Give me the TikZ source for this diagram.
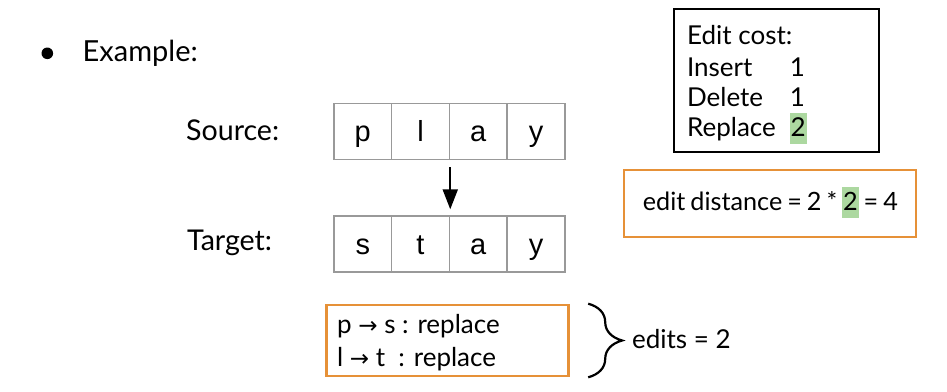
\documentclass[tikz,border=0pt]{standalone}
\usepackage{fontspec}
\setmainfont{Lato}
\newfontfamily\cellfont{Liberation Sans}
\newfontfamily\arrowfont{DejaVu Sans}
\usetikzlibrary{arrows.meta, decorations.pathreplacing}
\definecolor{boxOrange}{HTML}{E69138}
\definecolor{hlGreen}{HTML}{ACD8A0}
\definecolor{cellGray}{HTML}{999999}
\newcommand{\hlnum}[1]{{\setlength{\fboxsep}{0.4pt}\colorbox{hlGreen}{\rule[-3.3pt]{0pt}{15pt}#1}}}
\newcommand{\rarr}{{\arrowfont\fontsize{11.5}{12}\selectfont →}}

\begin{document}
\begin{tikzpicture}[x=0.5pt, y=-0.5pt,
    cell/.style={rectangle, draw=cellGray, line width=0.7pt, minimum width=28.9pt, minimum height=28pt,
      inner sep=0pt, text height=11pt, text depth=0.6pt, font=\cellfont\fontsize{14.5}{16}\selectfont},
    lbl/.style={anchor=base west, inner sep=0pt, font=\fontsize{13}{15}\selectfont},
    obox/.style={rectangle, draw=boxOrange, line width=1.3pt, inner sep=0pt},
    darr/.style={-{Triangle[length=10pt, width=7.5pt]}, line width=1pt}
  ]
  \useasboundingbox (0,0) rectangle (947,391);

  % bullet and row labels
  \fill (47.3,53.3) circle[radius=2.9pt];
  \node[lbl, font=\fontsize{14.5}{17}\selectfont] (ex)  at (82.3,61.7)  {Example:};
  \node[lbl, font=\fontsize{14.3}{17}\selectfont] (src) at (185.7,140.7) {Source:};
  \node[lbl, font=\fontsize{14.3}{17}\selectfont] (tgt) at (186.7,250)   {Target:};

  % letter cells
  \foreach \i/\a/\b in {1/p/s, 2/l/t, 3/a/a, 4/y/y} {
    \node[cell] (s\i) at ({305+57.75*\i},131.3) {\a};
    \node[cell] (t\i) at ({305+57.75*\i},244)   {\b};
  }
  \draw[darr] ([xshift=0.8pt, yshift=-3.7pt]s3.south west) -- ([xshift=0.8pt, yshift=3pt]t3.north west);

  % cost table
  \node[rectangle, draw, line width=1pt, minimum width=102.5pt, minimum height=71.4pt] (cost) at (776.8,80.4) {};
  \node[lbl] (c0) at (686.7,44.3) {Edit cost:};
  \foreach \n/\t/\v/\y in {1/Insert/1/76, 2/Delete/1/106.5, 3/Replace/{\hlnum{2}}/136.7} {
    \node[lbl] (c\n) at (686.7,\y) {\t};
    \node[lbl] (v\n) at (789.5,\y) {\v};
  }

  % result
  \node[obox, minimum width=146pt, minimum height=33.4pt] (dist) at (770,203.4) {};
  \node[lbl, anchor=base, font=\fontsize{12.6}{15}\selectfont] (dtext) at (770.4,210.7)
    {\spaceskip=0.2em plus 0.1em\relax edit distance = 2 * \hlnum{2} = 4};

  % edits
  \node[obox, minimum width=120.8pt, minimum height=35.5pt] (edits) at (447.5,340.5) {};
  \node[lbl] (e1) at (336.7,333.3) {p \rarr\ s : replace};
  \node[lbl] (e2) at (336.7,366)   {l \rarr\ t\ \ : replace};
  \draw[decorate, decoration={brace, amplitude=17pt}, line width=1.1pt]
    ([xshift=9.3pt]edits.north east) -- ([xshift=9.3pt]edits.south east);
  \node[lbl] (cnt) at (631.7,348.3) {edits = 2};
\end{tikzpicture}
\end{document}
